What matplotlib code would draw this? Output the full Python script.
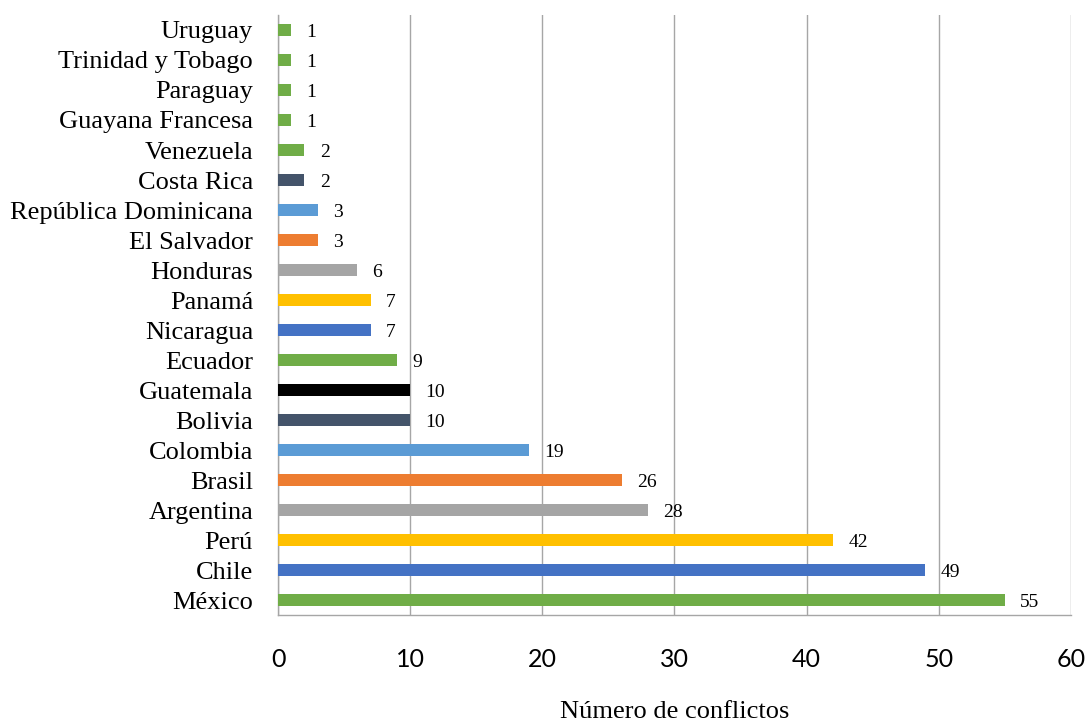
import numpy as np
import matplotlib
matplotlib.use("Agg")
import matplotlib.pyplot as plt

# conflicts per country, listed bottom to top
paises = ["México", "Chile", "Perú", "Argentina", "Brasil", "Colombia",
          "Bolivia", "Guatemala", "Ecuador", "Nicaragua", "Panamá",
          "Honduras", "El Salvador", "República Dominicana", "Costa Rica",
          "Venezuela", "Guayana Francesa", "Paraguay", "Trinidad y Tobago",
          "Uruguay"]
conflictos = [55, 49, 42, 28, 26, 19, 10, 10, 9, 7, 7, 6, 3, 3, 2, 2, 1, 1, 1, 1]
colores = ["#70AD47", "#4472C4", "#FFC000", "#A5A5A5", "#ED7D31", "#5B9BD5",
           "#44546A", "#000000", "#70AD47", "#4472C4", "#FFC000", "#A5A5A5",
           "#ED7D31", "#5B9BD5", "#44546A", "#70AD47", "#70AD47", "#70AD47",
           "#70AD47", "#70AD47"]
xticks = [0, 10, 20, 30, 40, 50, 60]

serif = ["Liberation Serif", "DejaVu Serif"]
sans = ["Lato", "DejaVu Sans"]

fig = plt.figure(figsize=(10.86, 7.21), dpi=100)
ax = fig.add_axes([0.256, 0.1470, 0.730, 0.8322])

y = np.arange(len(paises))
ax.barh(y, conflictos, height=0.4, color=colores, zorder=3)

for yi, v in zip(y, conflictos):
    ax.annotate(str(v), (v, yi), xytext=(11, -1.5), textcoords="offset points",
                va="center", ha="left", fontsize=14, family=serif)

ax.set_xlim(0, 60)
ax.set_ylim(-0.5, 19.5)
ax.set_xticks(xticks)
ax.set_xticklabels([str(t) for t in xticks], family=sans, fontsize=18)
ax.set_yticks(y)
ax.set_yticklabels(paises, family=serif, fontsize=19)
ax.tick_params(axis="both", length=0)
ax.tick_params(axis="y", pad=18)
ax.tick_params(axis="x", pad=24)

ax.grid(axis="x", color="#A6A6A6", linewidth=1.0, zorder=0)
for s in ["top", "right"]:
    ax.spines[s].set_visible(False)
for s in ["left", "bottom"]:
    ax.spines[s].set_color("#A6A6A6")
    ax.spines[s].set_linewidth(1.0)

ax.set_xlabel("Número de conflictos", family=serif, fontsize=19, labelpad=21)

fig.savefig("out.png", dpi=100)
